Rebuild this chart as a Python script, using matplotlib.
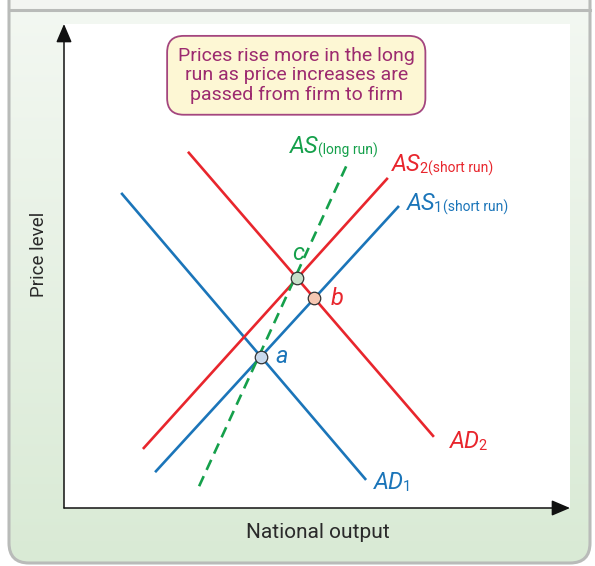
import numpy as np
import matplotlib.pyplot as plt
from matplotlib.patches import FancyBboxPatch, Rectangle

# curve endpoints (x, y) in chart units, 0-100 on both axes
ad1 = [(11.3, 65.1), (59.7, 5.8)]
ad2 = [(24.5, 73.6), (73.1, 14.7)]
as1 = [(18.0, 7.4), (66.2, 62.4)]
as2 = [(15.6, 12.2), (64.0, 68.2)]
as_long = [(26.7, 4.5), (55.9, 70.9)]

blue = '#1b75b9'
red = '#e8262d'
green = '#15a04b'
note_color = '#9c2a6f'

note_text = "Prices rise more in the long\nrun as price increases are\npassed from firm to firm"
x_label = "National output"
y_label = "Price level"

FONT = ['Roboto', 'DejaVu Sans']


def intersect(l1, l2):
    (x1, y1), (x2, y2) = l1
    (x3, y3), (x4, y4) = l2
    m1 = (y2 - y1) / (x2 - x1)
    m2 = (y4 - y3) / (x4 - x3)
    x = (y3 - y1 + m1 * x1 - m2 * x3) / (m1 - m2)
    return x, y1 + m1 * (x - x1)


fig = plt.figure(figsize=(5.95, 5.66), dpi=100)

# background panel with gradient
bg = fig.add_axes([0, 0, 1, 1], zorder=0)
bg.set_xlim(0, 595)
bg.set_ylim(566, 0)
bg.axis('off')
top_c = np.array([0.955, 0.972, 0.950])
bot_c = np.array([0.851, 0.918, 0.835])
t = np.linspace(0, 1, 256)[:, None, None]
grad = top_c * (1 - t) + bot_c * t
panel = FancyBboxPatch((9, -40), 581, 603, boxstyle='round,pad=0,rounding_size=20',
                       fc='none', ec='#b9bbb9', lw=2.2, zorder=3)
bg.add_patch(panel)
im = bg.imshow(grad, extent=(9, 590, 563, 0), origin='upper', aspect='auto', zorder=1)
im.set_clip_path(panel)
bg.add_patch(Rectangle((9, 0), 581, 9, fc='#f3f5f2', ec='none', zorder=2))
bg.plot([9, 590], [9.5, 9.5], color='#b9bbb9', lw=2.2, zorder=3)
bg.set_xlim(0, 595)
bg.set_ylim(566, 0)

# main chart
ax = fig.add_axes([64 / 595, 58 / 566, 506 / 595, 484 / 566], zorder=2)
ax.set_facecolor('white')
ax.set_xlim(0, 100)
ax.set_ylim(0, 100)
for s in ax.spines.values():
    s.set_visible(False)
ax.set_xticks([])
ax.set_yticks([])

arrow = dict(arrowstyle='-|>,head_length=0.75,head_width=0.32', color='#111111', lw=1.1,
             shrinkA=0, shrinkB=0, mutation_scale=15)
ax.annotate('', xy=(0, 1.0), xytext=(0, 0), xycoords='axes fraction', arrowprops=arrow,
            annotation_clip=False)
ax.annotate('', xy=(1.0, 0), xytext=(0, 0), xycoords='axes fraction', arrowprops=arrow,
            annotation_clip=False)

lw = 1.9
for line, col in [(ad1, blue), (as1, blue), (ad2, red), (as2, red)]:
    xs, ys = zip(*line)
    ax.plot(xs, ys, color=col, lw=lw, solid_capstyle='butt', zorder=3)
xs, ys = zip(*as_long)
ax.plot(xs, ys, color=green, lw=lw, dashes=(4.2, 2.6), zorder=4)

points = [(intersect(ad1, as1), '#c9d9ec'),
          (intersect(ad2, as1), '#f6c8b3'),
          (intersect(ad2, as2), '#c6e0c9')]
for (px, py), fc in points:
    ax.plot(px, py, 'o', ms=9, mfc=fc, mec='#333333', mew=0.9, zorder=5)


def curve_label(x, y, main, digit, extra, color):
    t0 = ax.text(x, y, main, color=color, fontsize=17, style='italic', family=FONT,
                 ha='left', va='baseline')
    t1 = ax.annotate(digit, xy=(1, 0), xycoords=t0, xytext=(-1.0, 0), textcoords='offset points',
                     color=color, fontsize=10.5, family=FONT, ha='left', va='bottom')
    if extra:
        ax.annotate(extra, xy=(1, 0), xycoords=t1, xytext=(0.3, 0),
                    textcoords='offset points', color=color, fontsize=10, family=FONT,
                    ha='left', va='bottom')


curve_label(44.7, 73.3, 'AS', '', '(long run)', green)
curve_label(64.8, 69.6, 'AS', '2', '(short run)', red)
curve_label(67.8, 61.6, 'AS', '1', '(short run)', blue)
curve_label(76.3, 12.4, 'AD', '2', '', red)
curve_label(61.3, 3.9, 'AD', '1', '', blue)

for lab, (lx, ly), col in [('a', (41.7, 30.0), blue), ('b', (52.6, 41.9), red),
                           ('c', (45.1, 51.2), green)]:
    ax.text(lx, ly, lab, color=col, fontsize=17, style='italic', family=FONT,
            ha='left', va='baseline')

ax.text(45.9, 89.4, note_text, color=note_color, fontsize=14, family=FONT,
        ha='center', va='center', linespacing=1.12,
        bbox=dict(boxstyle='round,pad=0.55,rounding_size=0.85', fc='#fdf7d4', ec='#a4467f', lw=1.3))

fig.text(318 / 595, 1 - 533 / 566, x_label, fontsize=15, family=FONT,
         color='#2a2a2a', ha='center', va='center', zorder=5)
fig.text(39 / 595, 1 - 254 / 566, y_label, fontsize=13.5, family=FONT,
         color='#2a2a2a', ha='center', va='center', rotation=90, zorder=5)

fig.savefig('out.png', dpi=100)
